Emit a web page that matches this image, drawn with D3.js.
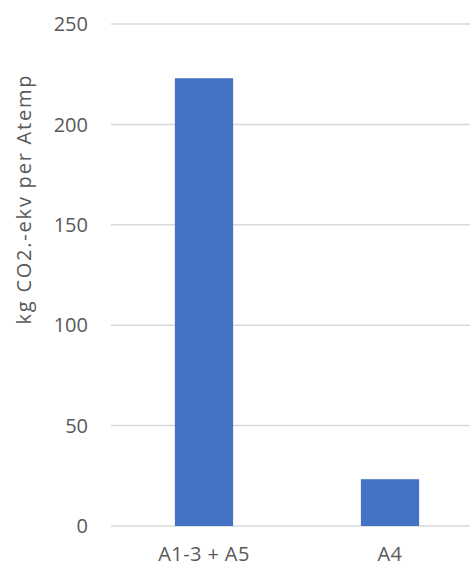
<!DOCTYPE html>
<html>
<head>
<meta charset="utf-8">
<script src="https://cdn.jsdelivr.net/npm/d3@7"></script>
<style>
  body { margin: 0; background: #fff; }
  text { font-family: "Open Sans", sans-serif; fill: #595959; }
</style>
</head>
<body>
<div id="chart"></div>
<script>
// data
const categories = ['A1-3 + A5', 'A4'];
const values = [223, 23.3];
const yTicks = [0, 50, 100, 150, 200, 250];
const yTitle = 'kg CO2.-ekv per Atemp';

const width = 470,
      height = 565,
      margins = { top: 24, right: -13, bottom: 39, left: 111 };

const innerW = width - margins.left - margins.right;
const innerH = height - margins.top - margins.bottom;

const $svg = d3.select('#chart').append('svg')
  .attr('width', width)
  .attr('height', height);

const $g = $svg.append('g')
  .attr('transform', `translate(${margins.left}, ${margins.top})`);

const xScale = d3.scaleBand()
  .domain(categories)
  .range([0, innerW])
  .paddingInner(0.687)
  .paddingOuter(0.3435);

const yScale = d3.scaleLinear()
  .domain([0, 250])
  .range([innerH, 0]);

// gridlines
$g.selectAll('.grid')
  .data(yTicks)
  .enter()
  .append('line')
  .classed('grid', true)
  .attr('x1', 0)
  .attr('x2', innerW)
  .attr('y1', d => yScale(d))
  .attr('y2', d => yScale(d))
  .style('stroke', '#d9d9d9')
  .attr('stroke-width', 1.5);

// y labels
$g.selectAll('.y-label')
  .data(yTicks)
  .enter()
  .append('text')
  .classed('y-label', true)
  .attr('x', -23)
  .attr('y', d => yScale(d))
  .attr('dy', '0.36em')
  .attr('text-anchor', 'end')
  .style('font-size', '20px')
  .text(d => d);

// bars
$g.selectAll('.bar')
  .data(values)
  .enter()
  .append('rect')
  .classed('bar', true)
  .attr('x', (d, i) => xScale(categories[i]))
  .attr('width', xScale.bandwidth())
  .attr('y', d => yScale(d))
  .attr('height', d => yScale(0) - yScale(d))
  .style('fill', '#4472c4');

// x labels
$g.selectAll('.x-label')
  .data(categories)
  .enter()
  .append('text')
  .classed('x-label', true)
  .attr('x', d => xScale(d) + xScale.bandwidth() / 2)
  .attr('y', innerH + 35)
  .attr('text-anchor', 'middle')
  .style('font-size', '20px')
  .style('letter-spacing', '0.4px')
  .text(d => d);

// y title (stretched to the reference's length)
$svg.append('text')
  .attr('transform', 'translate(31, 200) rotate(-90)')
  .attr('text-anchor', 'middle')
  .attr('textLength', 249)
  .attr('lengthAdjust', 'spacing')
  .style('font-size', '20px')
  .text(yTitle);
</script>
</body>
</html>
